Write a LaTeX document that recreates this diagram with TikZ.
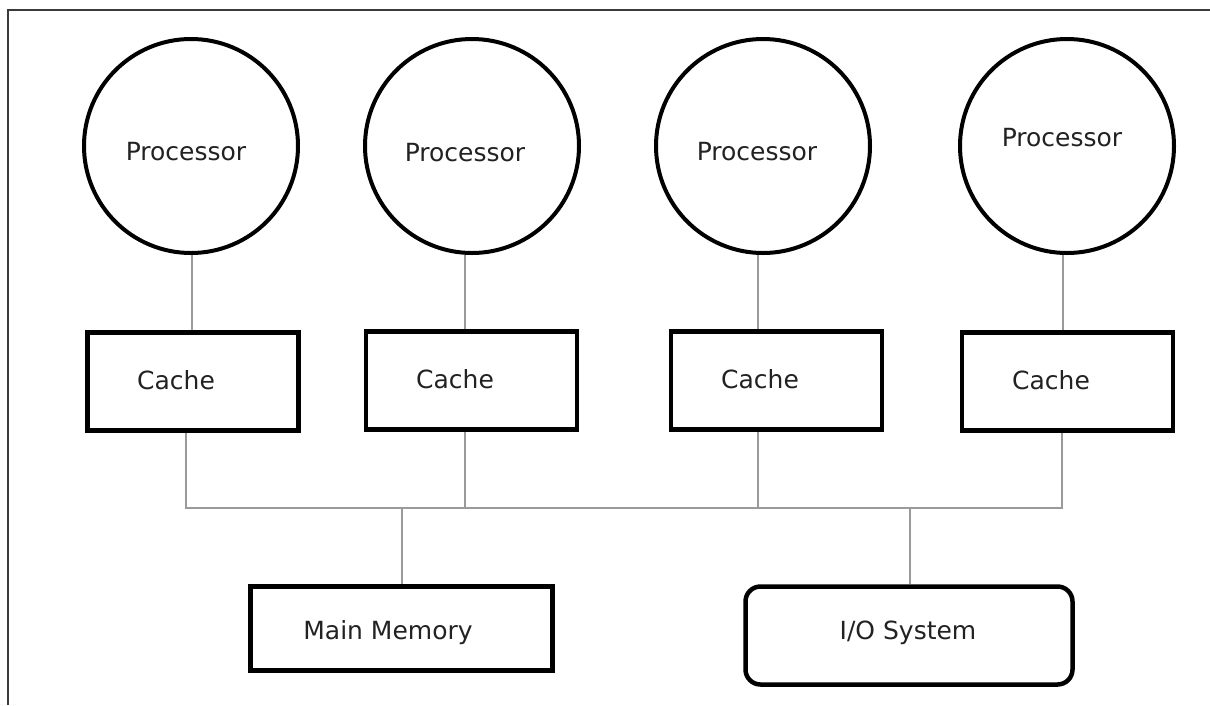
\documentclass[tikz,border=0pt]{standalone}
\usepackage{fontspec}
\setmainfont{DejaVu Sans}
\definecolor{ink}{HTML}{222222}
\definecolor{wiregray}{HTML}{9A9A9A}
\definecolor{framegray}{HTML}{3A3A3A}
\tikzset{
  proc/.style={circle, draw=black, line width=4pt, minimum size=214pt, inner sep=0pt},
  cachebox/.style={rectangle, draw=black, line width=4.5pt, minimum width=211pt, minimum height=98pt, inner sep=0pt},
  membox/.style={rectangle, draw=black, line width=4.5pt, inner sep=0pt},
  iobox/.style={rectangle, rounded corners=15pt, draw=black, line width=4.5pt, inner sep=0pt},
  lbl/.style={text=ink, inner sep=0pt, font=\fontsize{25}{30}\selectfont},
  wire/.style={draw=wiregray, line width=1.5pt},
  edge/.style={draw=framegray, line width=2.2pt}
}
\begin{document}
\begin{tikzpicture}[x=1pt, y=-1pt]
\useasboundingbox (0,0) rectangle (1210,705);
\fill[white] (0,0) rectangle (1210,705);

% outer frame (top and left edges)
\coordinate (fl) at (8,705);
\coordinate (ftl) at (8,10);
\coordinate (ftr) at (1212,10);
\draw[edge] (fl) -- (ftl) -- (ftr);

% processors
\node[proc] (p1) at (191,146) {};
\node[proc] (p2) at (472,146) {};
\node[proc] (p3) at (763,146) {};
\node[proc] (p4) at (1067,146) {};
\node[lbl] (p1t) at (186,152) {Processor};
\node[lbl] (p2t) at (465,153) {Processor};
\node[lbl] (p3t) at (757,152) {Processor};
\node[lbl] (p4t) at (1062,138) {Processor};

% caches
\node[cachebox] (c1) at (193,381.5) {};
\node[cachebox] (c2) at (471.5,380.5) {};
\node[cachebox] (c3) at (776.5,380.5) {};
\node[cachebox] (c4) at (1067.5,381.5) {};
\node[lbl] (c1t) at (176,380) {Cache};
\node[lbl] (c2t) at (455,379) {Cache};
\node[lbl] (c3t) at (760,379) {Cache};
\node[lbl] (c4t) at (1051,380) {Cache};

% memory and I/O
\node[membox, minimum width=302pt, minimum height=84pt] (mm) at (401.5,628.5) {};
\node[iobox, minimum width=327pt, minimum height=98pt] (io) at (909,635.5) {};
\node[lbl] (mmt) at (388,633) {Main Memory};
\node[lbl] (iot) at (908,633) {I/O System};

% processor to cache links
\coordinate (u1) at (192,0);
\coordinate (u2) at (465,0);
\coordinate (u3) at (758,0);
\coordinate (u4) at (1063,0);
\draw[wire] (p1.south -| u1) -- (c1.north -| u1);
\draw[wire] (p2.south -| u2) -- (c2.north -| u2);
\draw[wire] (p3.south -| u3) -- (c3.north -| u3);
\draw[wire] (p4.south -| u4) -- (c4.north -| u4);

% shared bus
\coordinate (b1) at (186,508);
\coordinate (b2) at (465,508);
\coordinate (b3) at (758,508);
\coordinate (b4) at (1062,508);
\coordinate (bm) at (402,508);
\coordinate (bi) at (910,508);
\draw[wire] (c1.south -| b1) -- (b1) -- (b4) -- (c4.south -| b4);
\draw[wire] (c2.south -| b2) -- (b2);
\draw[wire] (c3.south -| b3) -- (b3);
\draw[wire] (bm) -- (mm.north -| bm);
\draw[wire] (bi) -- (io.north -| bi);
\end{tikzpicture}
\end{document}
